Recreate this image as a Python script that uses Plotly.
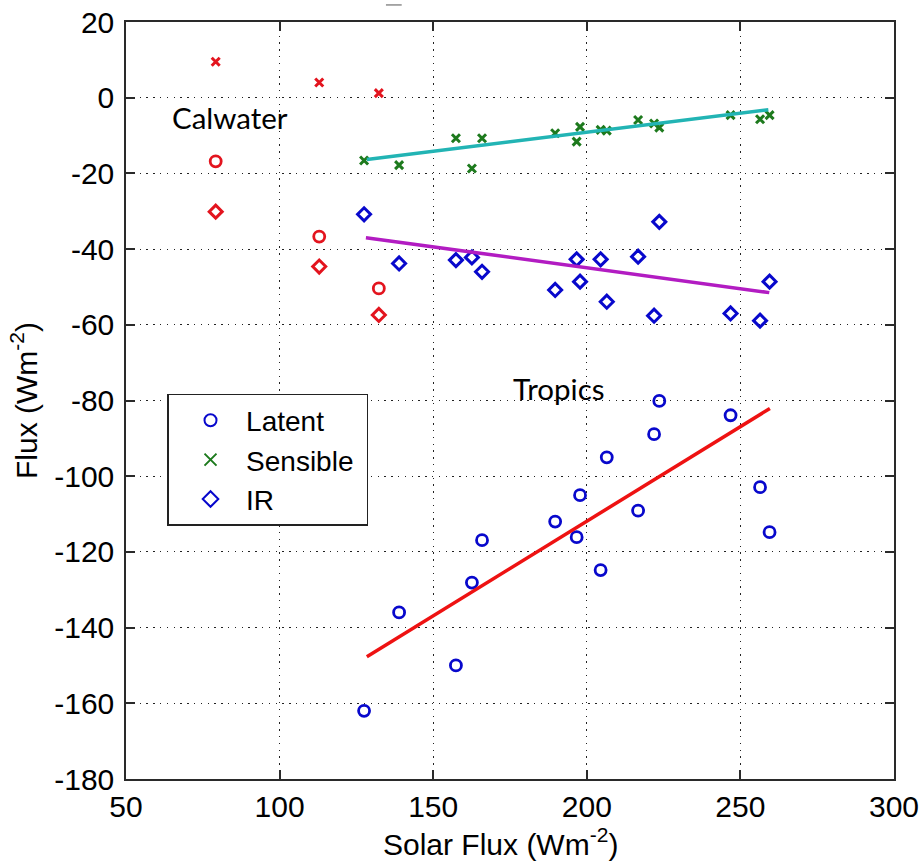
import plotly.graph_objects as go

# ---- data ----
solar_tropics = [127.5, 138.9, 157.4, 162.6, 165.9, 189.7, 196.7, 197.8,
                 204.5, 206.5, 216.7, 221.9, 223.6, 246.8, 256.4, 259.5]
latent_tropics = [-162.0, -136.0, -150.0, -128.1, -116.9, -112.0, -116.1, -105.0,
                  -124.8, -95.0, -109.1, -88.9, -80.1, -83.9, -102.9, -114.8]
sensible_tropics = [-16.6, -17.8, -10.7, -18.7, -10.7, -9.4, -11.6, -7.7,
                    -8.5, -8.7, -5.9, -6.8, -7.9, -4.6, -5.7, -4.6]
ir_tropics = [-30.8, -43.8, -42.9, -42.2, -46.0, -50.8, -42.7, -48.6,
              -42.7, -53.9, -42.0, -57.6, -32.8, -57.0, -58.9, -48.6]

solar_calwater = [79.2, 112.9, 132.3]
latent_calwater = [-16.8, -36.7, -50.4]
sensible_calwater = [9.5, 4.0, 1.2]
ir_calwater = [-30.1, -44.6, -57.4]

latent_fit_x = [128.4, 259.6]
latent_fit_y = [-147.7, -82.1]
sensible_fit_x = [128.4, 259.1]
sensible_fit_y = [-16.3, -3.2]
ir_fit_x = [128.1, 259.4]
ir_fit_y = [-37.0, -51.5]

x_ticks = [50, 100, 150, 200, 250, 300]
y_ticks = [20, 0, -20, -40, -60, -80, -100, -120, -140, -160, -180]

BLUE = "#0808cc"
GREEN = "#1d7a1d"
RED = "#e3141e"
FONT = "Liberation Sans, Arial, sans-serif"
FS = 30

fig = go.Figure()

circle = dict(symbol="circle-open", size=11)
cross = dict(symbol="x-thin-open", size=8)
diamond = dict(symbol="diamond-open", size=10)

# Tropics markers (legend)
fig.add_trace(go.Scatter(x=solar_tropics, y=latent_tropics, mode="markers",
                         name="\u00a0\u00a0Latent", legendgroup="a",
                         marker=dict(**circle, color=BLUE,
                                     line=dict(width=2.8, color=BLUE))))
fig.add_trace(go.Scatter(x=solar_tropics, y=sensible_tropics, mode="markers",
                         name="\u00a0\u00a0Sensible\u00a0", legendgroup="b",
                         marker=dict(**cross, color=GREEN,
                                     line=dict(width=3, color=GREEN))))
fig.add_trace(go.Scatter(x=solar_tropics, y=ir_tropics, mode="markers",
                         name="\u00a0\u00a0IR", legendgroup="c",
                         marker=dict(**diamond, color=BLUE,
                                     line=dict(width=3, color=BLUE))))

# Calwater markers
fig.add_trace(go.Scatter(x=solar_calwater, y=latent_calwater, mode="markers",
                         showlegend=False,
                         marker=dict(**circle, color=RED,
                                     line=dict(width=2.8, color=RED))))
fig.add_trace(go.Scatter(x=solar_calwater, y=sensible_calwater, mode="markers",
                         showlegend=False,
                         marker=dict(**cross, color=RED,
                                     line=dict(width=3, color=RED))))
fig.add_trace(go.Scatter(x=solar_calwater, y=ir_calwater, mode="markers",
                         showlegend=False,
                         marker=dict(**diamond, color=RED,
                                     line=dict(width=3, color=RED))))

# fit lines
fig.add_trace(go.Scatter(x=sensible_fit_x, y=sensible_fit_y, mode="lines",
                         showlegend=False, line=dict(color="#22b4b4", width=3.5)))
fig.add_trace(go.Scatter(x=ir_fit_x, y=ir_fit_y, mode="lines",
                         showlegend=False, line=dict(color="#b21cc2", width=3.5)))
fig.add_trace(go.Scatter(x=latent_fit_x, y=latent_fit_y, mode="lines",
                         showlegend=False, line=dict(color="#ee1212", width=3.5)))

axis_common = dict(
    showline=True, linecolor="#2a2a2a", linewidth=1.5, mirror="allticks",
    ticks="inside", ticklen=9, tickwidth=1.5, tickcolor="#2a2a2a",
    showgrid=True, gridcolor="#222222", gridwidth=1.3, griddash="1.3px,5.5px",
    zeroline=False, tickfont=dict(family=FONT, size=FS, color="black"),
)

fig.update_xaxes(range=[50, 300], tickvals=x_ticks,
                 ticktext=[str(v) for v in x_ticks],
                 **axis_common)
fig.update_yaxes(range=[-180, 20], tickvals=y_ticks,
                 ticktext=[str(v) for v in y_ticks],
                 ticklabelstandoff=4,
                 title=dict(text="Flux (Wm<sup>-2</sup>)",
                            font=dict(family=FONT, size=FS, color="black"),
                            standoff=8),
                 **axis_common)

# x-axis title (slightly left of plot centre, as in the reference)
fig.add_annotation(xref="paper", yref="paper", x=0.487, y=-0.083,
                   text="Solar Flux (Wm<sup>-2</sup>)", showarrow=False,
                   font=dict(family=FONT, size=FS, color="black"),
                   xanchor="center", yanchor="middle")

fig.add_annotation(x=84.0, y=-5.3, text="Calwater", showarrow=False,
                   font=dict(family="Lato, Open Sans, sans-serif", size=29.5, color="black"),
                   xanchor="center", yanchor="middle")
fig.add_annotation(x=191.0, y=-76.8, text="Tropics", showarrow=False,
                   font=dict(family="Lato, Open Sans, sans-serif", size=29.5, color="black"),
                   xanchor="center", yanchor="middle")

# small stray mark above plot (clipped title remnant)
fig.add_shape(type="line", xref="paper", yref="paper",
              x0=0.3385, x1=0.359, y0=1.0225, y1=1.0225,
              line=dict(color="#555555", width=1))

fig.update_layout(
    width=921, height=862,
    margin=dict(l=126, r=27, t=22, b=83, autoexpand=False),
    paper_bgcolor="white", plot_bgcolor="white",
    showlegend=True,
    legend=dict(x=0.0534, y=0.5086, xanchor="left", yanchor="top",
                bgcolor="white", bordercolor="#222222", borderwidth=1.5,
                font=dict(family=FONT, size=28, color="black"),
                traceorder="grouped", tracegroupgap=0, indentation=22,
                itemsizing="constant"),
)

fig.write_html("out.html")
